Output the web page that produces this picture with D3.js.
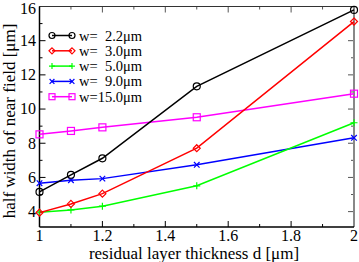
<!DOCTYPE html>
<html>
<head>
<meta charset="utf-8">
<script src="https://cdn.jsdelivr.net/npm/d3@7"></script>
<style>
body { margin: 0; background: #fff; }
svg { font-family: "Liberation Serif", "Times New Roman", serif; }
</style>
</head>
<body>
<svg id="chart" width="359" height="262"></svg>
<script>
// thickness values on the x axis
let thickness = [1.0, 1.1, 1.2, 1.5, 2.0];

// one array per width
let w22 = [5.15, 6.15, 7.12, 11.33, 15.8];
let w30 = [3.94, 4.45, 5.05, 7.71, 15.12];
let w50 = [3.97, 4.1, 4.32, 5.51, 9.2];
let w90 = [5.66, 5.84, 5.93, 6.74, 8.32];
let w150 = [8.52, 8.72, 8.93, 9.52, 10.9];

let seriesNames = ["w=  2.2\u03bcm", "w=  3.0\u03bcm", "w=  5.0\u03bcm", "w=  9.0\u03bcm", "w=15.0\u03bcm"];
let seriesColors = ["#000000", "#ff0000", "#00ff00", "#0000ff", "#ff00ff"];
let seriesMarkers = ["circle", "diamond", "plus", "cross", "square"];
let allSeries = [w22, w30, w50, w90, w150];

let xTicks = [1, 1.2, 1.4, 1.6, 1.8, 2];
let yTicks = [4, 6, 8, 10, 12, 14, 16];

let margin = {left: 39.5, right: 5, top: 6.5, bottom: 35};
let W = 359, H = 262;

let svg = d3.select("#chart");

let x = d3.scaleLinear().domain([1, 2]).range([margin.left, W - margin.right]);
let y = d3.scaleLinear().domain([3.1, 16]).range([H - margin.bottom, margin.top]);

let x0 = x.range()[0], x1 = x.range()[1];
let y0 = y.range()[0], y1 = y.range()[1];

// ticks, pointing inward
let xMinor = d3.range(1, 2.0001, 0.1);
let yMinor = d3.range(4, 16.0001, 1);

let tickG = svg.append("g").attr("stroke", "#000").attr("stroke-width", 1);
xMinor.forEach(function(v, i) {
    let len = (i % 2 === 0) ? 6 : 3;
    tickG.append("line").attr("x1", x(v)).attr("x2", x(v)).attr("y1", y0).attr("y2", y0 - len);
    tickG.append("line").attr("x1", x(v)).attr("x2", x(v)).attr("y1", y1).attr("y2", y1 + len).attr("stroke", "#555");
});
yMinor.forEach(function(v, i) {
    let len = (i % 2 === 0) ? 6 : 3;
    tickG.append("line").attr("x1", x0).attr("x2", x0 + len).attr("y1", y(v)).attr("y2", y(v));
    tickG.append("line").attr("x1", x1).attr("x2", x1 - len).attr("y1", y(v)).attr("y2", y(v)).attr("stroke", "#555");
});

// frame
svg.append("line").attr("x1", x0).attr("x2", x1).attr("y1", y1).attr("y2", y1).attr("stroke", "#333").attr("stroke-width", 1);
svg.append("line").attr("x1", x1).attr("x2", x1).attr("y1", y1).attr("y2", y0).attr("stroke", "#888").attr("stroke-width", 2);
svg.append("line").attr("x1", x0).attr("x2", x1).attr("y1", y0).attr("y2", y0).attr("stroke", "#000").attr("stroke-width", 1.5);
svg.append("line").attr("x1", x0).attr("x2", x0).attr("y1", y1).attr("y2", y0).attr("stroke", "#000").attr("stroke-width", 1.5);

// tick labels
svg.append("g").selectAll("text").data(xTicks).enter().append("text")
    .attr("x", function(d) { return x(d); })
    .attr("y", 240.5)
    .attr("text-anchor", "middle")
    .attr("font-size", 16)
    .text(function(d) { return d3.format("~g")(d); });

// top label would poke out of the picture, keep it just inside
svg.append("g").selectAll("text").data(yTicks).enter().append("text")
    .attr("x", x0 - 3.5)
    .attr("y", function(d) { return Math.max(y(d) + 5.3, 14.4); })
    .attr("text-anchor", "end")
    .attr("font-size", 16)
    .text(function(d) { return d; });

// axis titles
svg.append("text")
    .attr("x", 194)
    .attr("y", 258.5)
    .attr("text-anchor", "middle")
    .attr("font-size", 17)
    .text("residual layer thickness d [\u03bcm]");

svg.append("text")
    .attr("transform", "translate(15,121) rotate(-90)")
    .attr("text-anchor", "middle")
    .attr("font-size", 17)
    .text("half width of near field [\u03bcm]");

function drawMarker(g, type, cx, cy, color, s) {
    if (type === "circle") {
        g.append("circle").attr("cx", cx).attr("cy", cy).attr("r", s)
            .attr("fill", "none").attr("stroke", color).attr("stroke-width", 1.2);
    } else if (type === "diamond") {
        g.append("path").attr("d", "M" + cx + "," + (cy - s) + "L" + (cx + s) + "," + cy + "L" + cx + "," + (cy + s) + "L" + (cx - s) + "," + cy + "Z")
            .attr("fill", "none").attr("stroke", color).attr("stroke-width", 1.2);
    } else if (type === "plus") {
        g.append("path").attr("d", "M" + (cx - s) + "," + cy + "H" + (cx + s) + "M" + cx + "," + (cy - s) + "V" + (cy + s))
            .attr("stroke", color).attr("stroke-width", 1.2);
    } else if (type === "cross") {
        let t = s * 0.8;
        g.append("path").attr("d", "M" + (cx - t) + "," + (cy - t) + "L" + (cx + t) + "," + (cy + t) + "M" + (cx + t) + "," + (cy - t) + "L" + (cx - t) + "," + (cy + t))
            .attr("stroke", color).attr("stroke-width", 1.2);
    } else if (type === "square") {
        g.append("rect").attr("x", cx - s).attr("y", cy - s).attr("width", 2 * s).attr("height", 2 * s)
            .attr("fill", "none").attr("stroke", color).attr("stroke-width", 1.2);
    }
}

let line = d3.line()
    .x(function(d, i) { return x(thickness[i]); })
    .y(function(d) { return y(d); });

// draw in reverse so black is on top
for (let k = allSeries.length - 1; k >= 0; k--) {
    let g = svg.append("g");
    g.append("path").datum(allSeries[k]).attr("d", line)
        .attr("fill", "none").attr("stroke", seriesColors[k]).attr("stroke-width", 1.5);
    allSeries[k].forEach(function(v, i) {
        drawMarker(g, seriesMarkers[k], x(thickness[i]), y(v), seriesColors[k], 3.5);
    });
}

// legend
let lg = svg.append("g");
seriesNames.forEach(function(name, k) {
    let ly = 35.5 + k * 15.3;
    lg.append("line").attr("x1", 52).attr("x2", 72).attr("y1", ly).attr("y2", ly)
        .attr("stroke", seriesColors[k]).attr("stroke-width", 1.5);
    drawMarker(lg, seriesMarkers[k], 52, ly, seriesColors[k], 3);
    drawMarker(lg, seriesMarkers[k], 72, ly, seriesColors[k], 3);
    lg.append("text").attr("x", 79).attr("y", ly + 5)
        .attr("font-size", 14.5)
        .attr("xml:space", "preserve")
        .style("white-space", "pre")
        .text(name);
});
</script>
</body>
</html>
